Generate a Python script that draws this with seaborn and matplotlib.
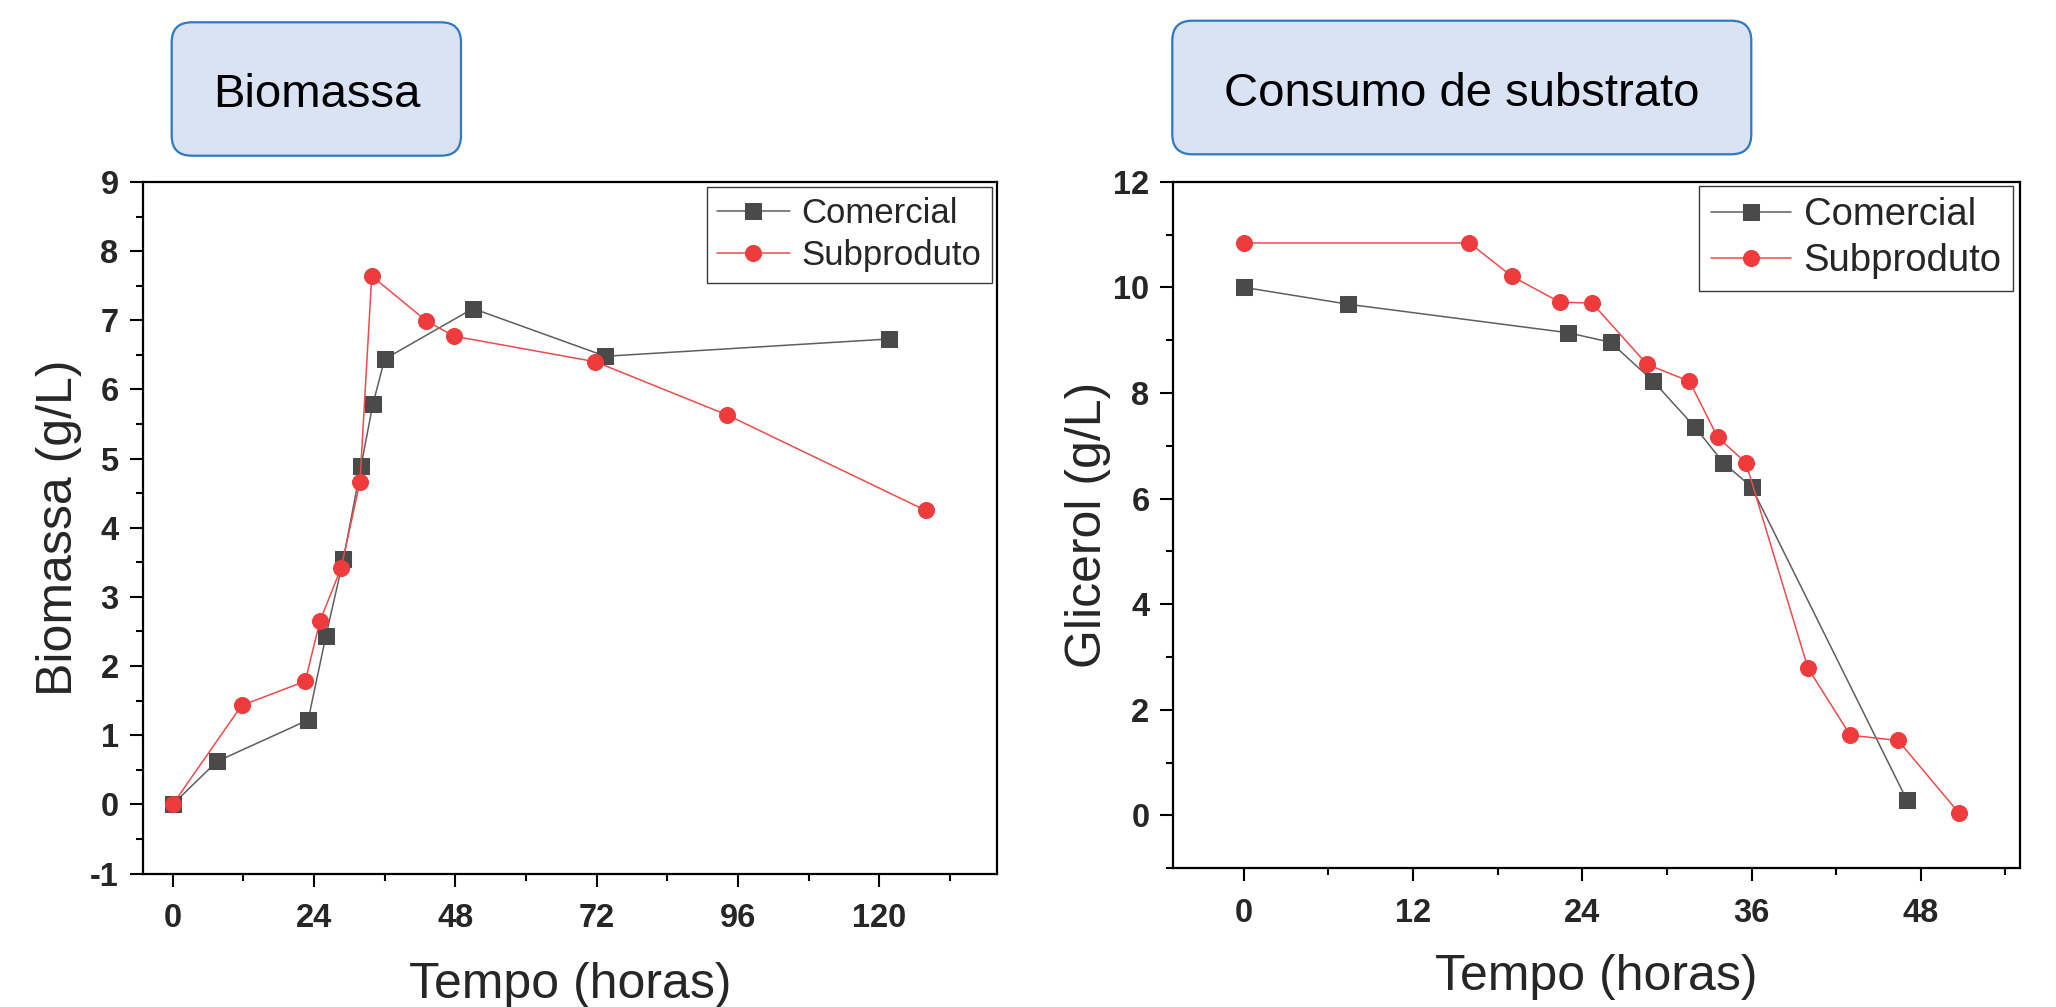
import numpy as np
import pandas as pd
import matplotlib
matplotlib.use("Agg")
import matplotlib.pyplot as plt
import seaborn as sns
from matplotlib.patches import FancyBboxPatch
from matplotlib.ticker import MultipleLocator

# ---------------- data ----------------
series_names = ["Comercial", "Subproduto"]

bio_com_t = [0, 7.5, 23, 26, 29, 32, 34, 36, 51, 73.5, 121.7]
bio_com_v = [0, 0.62, 1.22, 2.43, 3.55, 4.90, 5.79, 6.44, 7.17, 6.48, 6.73]
bio_sub_t = [0, 11.7, 22.5, 25, 28.6, 31.8, 33.8, 43.1, 47.8, 71.8, 94.2, 127.9]
bio_sub_v = [0, 1.43, 1.78, 2.65, 3.42, 4.66, 7.64, 6.99, 6.77, 6.40, 5.63, 4.25]

gli_com_t = [0, 7.4, 23, 26, 29, 32, 34, 36, 47]
gli_com_v = [10.0, 9.68, 9.14, 8.96, 8.23, 7.35, 6.68, 6.22, 0.30]
gli_sub_t = [0, 16, 19, 22.4, 24.7, 28.6, 31.6, 33.6, 35.6, 40, 43, 46.4, 50.7]
gli_sub_v = [10.84, 10.84, 10.21, 9.72, 9.70, 8.54, 8.22, 7.16, 6.68, 2.79, 1.52, 1.42, 0.05]

bio_xticks = [0, 24, 48, 72, 96, 120]
bio_yticks = [-1, 0, 1, 2, 3, 4, 5, 6, 7, 8, 9]
gli_xticks = [0, 12, 24, 36, 48]
gli_yticks = [0, 2, 4, 6, 8, 10, 12]

titles = ["Biomassa", "Consumo de substrato"]
xlabel = "Tempo (horas)"
ylabels = ["Biomassa (g/L)", "Glicerol (g/L)"]

# ---------------- style ----------------
sns.set_theme(style="ticks")
plt.rcParams["font.family"] = ["Liberation Sans", "DejaVu Sans"]

GRAY_LINE = "#5e5e5e"
GRAY_MK = "#4a4a4a"
RED_LINE = "#f04a4a"
RED_MK = "#ef3b3b"

fig = plt.figure(figsize=(20.56, 10.07), dpi=100)
W, H = 2056, 1007


def px_axes(l, r, t, b):
    return fig.add_axes([l / W, 1 - b / H, (r - l) / W, (b - t) / H])


ax1 = px_axes(143.3, 997, 182, 873.5)
ax2 = px_axes(1173.3, 2019.5, 181.7, 868.3)


def draw(ax, ct, cv, st, sv):
    dfc = pd.DataFrame({"t": ct, "v": cv})
    dfs = pd.DataFrame({"t": st, "v": sv})
    sns.lineplot(data=dfc, x="t", y="v", ax=ax, estimator=None, sort=False,
                 color=GRAY_LINE, lw=1.1, marker="s", markersize=11,
                 markerfacecolor=GRAY_MK, markeredgecolor=GRAY_MK,
                 label=series_names[0], zorder=3)
    sns.lineplot(data=dfs, x="t", y="v", ax=ax, estimator=None, sort=False,
                 color=RED_LINE, lw=1.1, marker="o", markersize=11.5,
                 markerfacecolor=RED_MK, markeredgecolor=RED_MK,
                 label=series_names[1], zorder=4)


draw(ax1, bio_com_t, bio_com_v, bio_sub_t, bio_sub_v)
draw(ax2, gli_com_t, gli_com_v, gli_sub_t, gli_sub_v)

ax1.set_xlim(-5, 140)
ax1.set_ylim(-1, 9)
ax2.set_xlim(-5, 55)
ax2.set_ylim(-1, 12)

ax1.set_xticks(bio_xticks, labels=[str(v) for v in bio_xticks], fontweight="bold", fontsize=23.5)
ax1.set_yticks(bio_yticks, labels=[str(v) for v in bio_yticks], fontweight="bold", fontsize=23.5)
ax2.set_xticks(gli_xticks, labels=[str(v) for v in gli_xticks], fontweight="bold", fontsize=23.5)
ax2.set_yticks(gli_yticks, labels=[str(v) for v in gli_yticks], fontweight="bold", fontsize=23.5)
ax1.xaxis.set_minor_locator(MultipleLocator(12))
ax1.yaxis.set_minor_locator(MultipleLocator(0.5))
ax2.xaxis.set_minor_locator(MultipleLocator(6))
ax2.yaxis.set_minor_locator(MultipleLocator(1))

for ax, ypad in ((ax1, 8.4), (ax2, 7.8)):
    for s in ax.spines.values():
        s.set_visible(True)
        s.set_linewidth(1.6)
        s.set_color("black")
    ax.tick_params(which="both", direction="out", top=False, right=False,
                   color="black", width=1.5)
    ax.tick_params(which="major", length=9.4)
    ax.tick_params(which="minor", length=5)
    ax.tick_params(axis="x", which="major", pad=12)
    ax.tick_params(axis="y", which="major", pad=ypad)
    ax.set_facecolor("white")
    ax.grid(False)

ax1.set_xlabel(xlabel, fontsize=36)
ax2.set_xlabel(xlabel, fontsize=36)
ax1.set_ylabel(ylabels[0], fontsize=36)
ax2.set_ylabel(ylabels[1], fontsize=36)
ax1.xaxis.set_label_coords(0.5, -0.128)
ax2.xaxis.set_label_coords(0.5, -0.1248)
ax1.yaxis.set_label_coords(-0.0718, 0.5)
ax2.yaxis.set_label_coords(-0.074, 0.5)

for ax, fs, anchor in ((ax1, 25, (0.9938, 0.9932)), (ax2, 27.5, (0.9923, 0.9942))):
    leg = ax.legend(loc="upper right", bbox_to_anchor=anchor, borderaxespad=0,
                    fontsize=fs, handlelength=2.1, handletextpad=0.33,
                    borderpad=0.3, labelspacing=0.27, frameon=True,
                    fancybox=False, shadow=False, framealpha=1,
                    edgecolor="#3a3a3a")
    leg.get_frame().set_linewidth(1.0)

# ---------------- title boxes ----------------
boxes = [(171.7, 461.0, 22.3, 155.7, 95.3), (1172.3, 1751.3, 20.7, 154.3, 94.2)]
for (l, r, t, b, ty), txt in zip(boxes, titles):
    patch = FancyBboxPatch((l / 100, (H - b) / 100), (r - l) / 100, (b - t) / 100,
                           boxstyle="round,pad=0,rounding_size=0.2",
                           transform=fig.dpi_scale_trans, facecolor="#dae3f3",
                           edgecolor="#2e78c4", linewidth=1.6, zorder=5)
    fig.patches.append(patch)
    fig.text((l + r) / 2 / W, 1 - ty / H, txt, ha="center", va="center",
             fontsize=34, color="black", zorder=6)

fig.savefig("out.png", dpi=100)
